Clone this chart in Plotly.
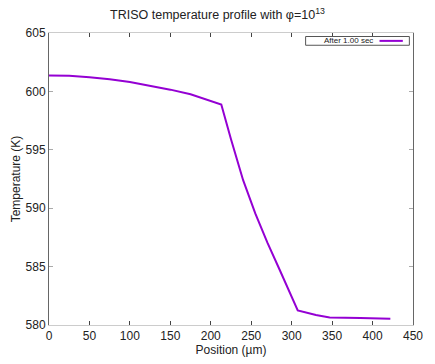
import plotly.graph_objects as go

position_um = [0, 25, 50, 75, 100, 125, 150, 175, 200, 213,
               225, 240, 255, 270, 285, 300, 307.5, 330, 347, 385, 422]
temperature_K = [601.37, 601.33, 601.22, 601.05, 600.80, 600.50, 600.15, 599.75, 599.20, 598.88,
                 595.90, 592.40, 589.55, 587.05, 584.75, 582.40, 581.24, 580.85, 580.65, 580.60, 580.53]
series_name = "After 1.00 sec"
x_ticks = [0, 50, 100, 150, 200, 250, 300, 350, 400, 450]
y_ticks = [580, 585, 590, 595, 600, 605]

FONT = "Liberation Sans, Arial, sans-serif"
LINE_COLOR = "#9400D3"

fig = go.Figure()
fig.add_trace(go.Scatter(x=position_um, y=temperature_K, mode="lines",
                         line=dict(color=LINE_COLOR, width=2), name=series_name,
                         showlegend=False))

fig.update_layout(
    width=435, height=364,
    margin=dict(l=49, r=14, t=33, b=35),
    paper_bgcolor="white", plot_bgcolor="white",
    font=dict(family=FONT, size=12, color="#222"),
    title=dict(text="TRISO temperature profile with φ=10<sup>13</sup>",
               x=0.5, xanchor="center", y=0.972, yanchor="top",
               font=dict(family=FONT, size=12.5, color="#222")),
    showlegend=False,
)

fig.update_xaxes(range=[0, 450], tickvals=x_ticks, ticks="inside", ticklen=4,
                 tickcolor="#444", showline=True, linecolor="#ccc", linewidth=1,
                 mirror="ticks", showgrid=False, zeroline=False,
                 tickfont=dict(family=FONT, size=12, color="#222"),
                 title=dict(text="Position (µm)", standoff=0,
                            font=dict(family=FONT, size=12, color="#222")))
fig.update_yaxes(range=[580, 605], tickvals=y_ticks, ticks="inside", ticklen=4,
                 tickcolor="#aaa", showline=True, linecolor="#666", linewidth=1,
                 mirror="ticks", showgrid=False, zeroline=False,
                 tickfont=dict(family=FONT, size=12, color="#222"),
                 title=dict(text="Temperature (K)", standoff=2,
                            font=dict(family=FONT, size=12, color="#222")))

# gnuplot-style key box: text on the left, line sample on the right
fig.add_shape(type="rect", xref="paper", yref="paper", x0=0.705, x1=0.990,
              y0=0.958, y1=0.988, line=dict(color="#555", width=1), fillcolor="white")
fig.add_shape(type="line", xref="paper", yref="paper", x0=0.908, x1=0.972,
              y0=0.973, y1=0.973, line=dict(color=LINE_COLOR, width=2))
fig.add_annotation(text=series_name, xref="paper", yref="paper", x=0.895, y=0.973,
                   xanchor="right", yanchor="middle", showarrow=False,
                   font=dict(family=FONT, size=8, color="#222"))

fig.write_html("out.html")
